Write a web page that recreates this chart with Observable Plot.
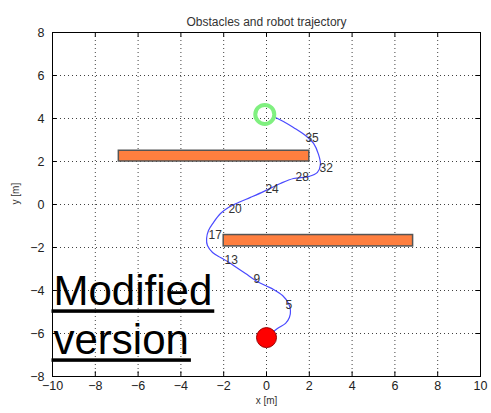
<!DOCTYPE html>
<html>
<head>
<meta charset="utf-8">
<script src="https://cdn.jsdelivr.net/npm/d3@7"></script>
<script src="https://cdn.jsdelivr.net/npm/@observablehq/plot@0.6"></script>
<style>
  html, body { margin: 0; padding: 0; background: #fff; }
</style>
</head>
<body>
<div id="chart"></div>
<script>
// Axis ticks
const xTicks = [-10, -8, -6, -4, -2, 0, 2, 4, 6, 8, 10];
const yTicks = [-8, -6, -4, -2, 0, 2, 4, 6, 8];

// Obstacles (rectangles)
const obsX1 = [-6.9, -2.0];
const obsX2 = [2.0, 6.85];
const obsY1 = [2.0, -1.95];
const obsY2 = [2.5, -1.42];

// Robot trajectory
const trajX = [0, 0.51, 0.89, 1.07, 1.12, 1.03, 0.75, 0.33, -0.05, -0.51, -0.98, -1.54, -1.82, -2.15, -2.52, -2.76, -2.80, -2.71, -2.48, -2.15, -1.78, -1.31, -0.75, -0.14, 0.65, 1.26, 1.96, 2.38, 2.52, 2.43, 2.20, 1.82, 1.26, 0.79, 0.42];
const trajY = [-6.19, -5.77, -5.53, -5.26, -4.93, -4.60, -4.23, -3.95, -3.77, -3.53, -3.21, -2.84, -2.65, -2.47, -2.23, -1.91, -1.58, -1.21, -0.84, -0.42, -0.14, 0.09, 0.33, 0.60, 0.98, 1.21, 1.30, 1.49, 1.86, 2.33, 2.84, 3.21, 3.58, 3.86, 4.05];

// Step labels along trajectory
const stepLabels = ["5", "9", "13", "17", "20", "24", "28", "32", "35"];
const stepX = [0.89, -0.61, -1.96, -2.71, -1.78, -0.05, 1.36, 2.48, 1.82];
const stepY = [-4.7, -3.49, -2.6, -1.44, -0.23, 0.70, 1.26, 1.67, 3.07];

// Start and goal
const startPos = {x: 0, y: -6.19};
const goalPos = {x: -0.08, y: 4.19};

// Annotation
const noteLines = ["Modified", "version"];

const obstacles = obsX1.map((d, i) => ({x1: obsX1[i], x2: obsX2[i], y1: obsY1[i], y2: obsY2[i]}));
const traj = trajX.map((d, i) => ({x: trajX[i], y: trajY[i]}));
const steps = stepLabels.map((t, i) => ({t, x: stepX[i], y: stepY[i]}));

const font = "'Liberation Sans', Arial, Helvetica, sans-serif";
const noteSize = 42;

const plot = Plot.plot({
  width: 491,
  height: 413,
  marginLeft: 52,
  marginRight: 11,
  marginTop: 32,
  marginBottom: 37,
  style: {fontFamily: font, fontSize: "12.5px", color: "#222", background: "#fff", overflow: "visible"},
  x: {domain: [-10, 10], ticks: xTicks, tickSize: 0, tickPadding: 5, label: null},
  y: {domain: [-8, 8], ticks: yTicks, tickSize: 0, tickPadding: 8, label: null},
  marks: [
    Plot.gridX(xTicks, {stroke: "#000", strokeOpacity: 0.75, strokeDasharray: "1,3"}),
    Plot.gridY(yTicks, {stroke: "#000", strokeOpacity: 0.75, strokeDasharray: "1,3"}),
    Plot.ruleX(xTicks, {y1: -8, y2: -7.78, stroke: "#000"}),
    Plot.ruleX(xTicks, {y1: 8, y2: 7.78, stroke: "#000"}),
    Plot.ruleY(yTicks, {x1: -10, x2: -9.78, stroke: "#000"}),
    Plot.ruleY(yTicks, {x1: 10, x2: 9.78, stroke: "#000"}),
    Plot.rect(obstacles, {x1: "x1", x2: "x2", y1: "y1", y2: "y2", fill: "#ff7f3f", stroke: "#555", strokeWidth: 1.5}),
    Plot.line(traj, {x: "x", y: "y", stroke: "#4a4aff", strokeWidth: 1.2, curve: "catmull-rom"}),
    Plot.text(steps, {x: "x", y: "y", text: "t", textAnchor: "start", fill: "#333", fontSize: 12}),
    Plot.dot([goalPos], {x: "x", y: "y", r: 9.5, stroke: "#80f080", strokeWidth: 4, fill: "none"}),
    Plot.dot([startPos], {x: "x", y: "y", r: 10, fill: "#ff0000", stroke: "#900", strokeWidth: 1}),
    Plot.frame({stroke: "#000"}),
    Plot.text(["Obstacles and robot trajectory"], {frameAnchor: "top", dy: -15, fontSize: 12, fill: "#333"}),
    Plot.text(["x [m]"], {frameAnchor: "bottom", dy: 27, fontSize: 10, fill: "#333"}),
    Plot.text(["y [m]"], {frameAnchor: "left", dx: -37, rotate: -90, fontSize: 10, fill: "#333"}),
    Plot.text([noteLines[0]], {frameAnchor: "top-left", dx: 1, dy: 243, textAnchor: "start", lineAnchor: "top", fontSize: noteSize, fill: "#000"}),
    Plot.text([noteLines[1]], {frameAnchor: "top-left", dx: 1, dy: 292, textAnchor: "start", lineAnchor: "top", fontSize: noteSize, fill: "#000"})
  ]
});
document.getElementById("chart").appendChild(plot);

// Underline the annotation text
const svgEl = plot.tagName.toLowerCase() === "svg" ? plot : plot.querySelector("svg");
const svg = d3.select(svgEl);
svg.selectAll("text").each(function() {
  if (!noteLines.includes(this.textContent)) return;
  const b = this.getBBox();
  const m = this.getCTM();
  const x0 = b.x + (m ? m.e : 0);
  const y0 = b.y + (m ? m.f : 0);
  const baseline = y0 + 0.905 * noteSize;
  svg.append("rect")
    .attr("x", x0 - 2)
    .attr("y", baseline + 4)
    .attr("width", b.width + 4)
    .attr("height", 3.5)
    .attr("fill", "#000");
});
</script>
</body>
</html>
